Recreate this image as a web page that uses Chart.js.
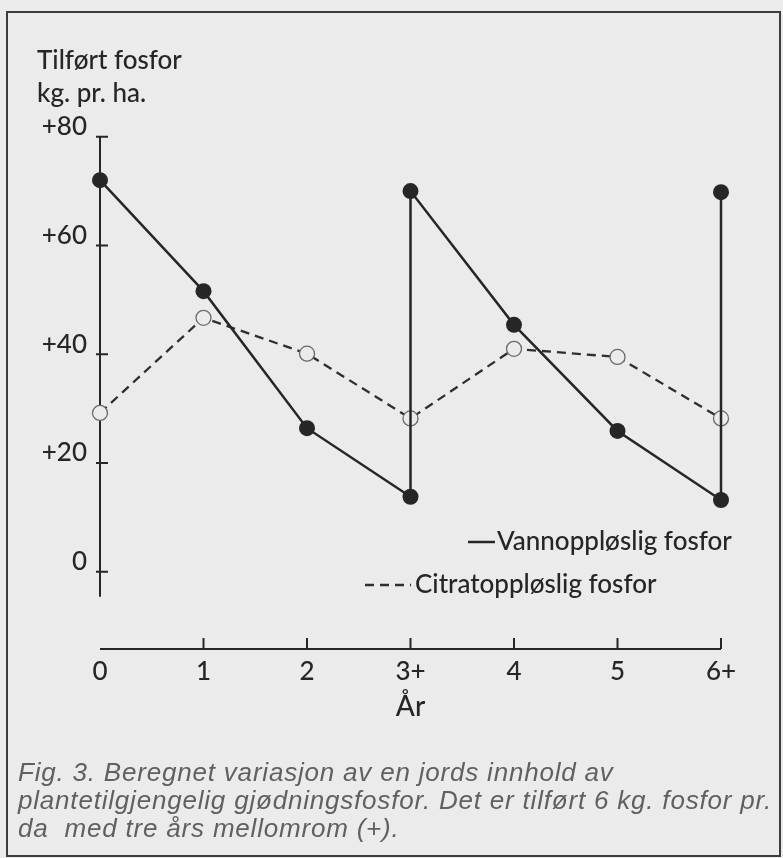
<!DOCTYPE html>
<html lang="no">
<head>
  <meta charset="UTF-8" />
  <title>Tilført fosfor</title>
  <script src="https://cdn.jsdelivr.net/npm/chart.js"></script>
  <style>
    html, body { margin: 0; padding: 0; background: #ebebeb; }
    body { width: 783px; height: 858px; position: relative; overflow: hidden; }
    #frame {
      position: absolute; left: 6px; top: 11px;
      width: 771px; height: 842px;
      border: 2px solid #3c3c3c;
    }
    #myChart { position: absolute; left: 0; top: 0; }
    #ytitle {
      position: absolute; left: 37px; top: 43px;
      font: 500 26px/33px Lato, "DejaVu Sans", sans-serif;
      color: #262626; white-space: nowrap;
    }
    #caption {
      position: absolute; left: 18px; top: 758px;
      font: italic 26px/28px "Liberation Sans", Arial, sans-serif;
      letter-spacing: 0.8px;
      color: #606060; white-space: nowrap;
    }
  </style>
</head>
<body>

<div id="frame"></div>
<canvas id="myChart" width="783" height="858"></canvas>
<div id="ytitle">Tilført fosfor<br>kg. pr. ha.</div>
<div id="caption">Fig. 3. Beregnet variasjon av en jords innhold av<br>plantetilgjengelig gjødningsfosfor. Det er tilført 6 kg. fosfor pr.<br>da&nbsp; med tre års mellomrom (+).</div>

<script>
  // tick values and labels
  const xTickValues = [0, 1, 2, 3, 4, 5, 6];
  const xTickLabels = ['0', '1', '2', '3+', '4', '5', '6+'];
  const yTickValues = [0, 20, 40, 60, 80];
  const yTickLabels = ['0', '+20', '+40', '+60', '+80'];

  // Vannoppløslig fosfor: falls each year, jumps back up at 3+ and 6+
  const waterYears = [0, 1, 2, 3, 3, 4, 5, 6, 6];
  const waterValues = [72, 51.6, 26.4, 13.8, 70, 45.4, 25.9, 13.2, 69.8];

  // Citratoppløslig fosfor
  const citrateYears = [0, 1, 2, 3, 4, 5, 6];
  const citrateValues = [29.2, 46.7, 40.1, 28.2, 41, 39.5, 28.2];

  const yBottom = -14.2;   // where the x axis sits
  const yAxisEnd = -4.6;   // the y axis line stops a little below 0
  const ink = '#262626';
  const bg = '#ebebeb';
  const figFont = 'Lato, "DejaVu Sans", sans-serif';

  const toPoints = (xs, ys) => xs.map((x, i) => ({ x: x, y: ys[i] }));

  // axes are drawn by hand: they do not meet at the corner in the original
  const handAxes = {
    id: 'handAxes',
    beforeDatasetsDraw(chart) {
      const { ctx, scales: { x, y }, chartArea } = chart;
      const x0 = x.getPixelForValue(0);
      const ay = chartArea.bottom;
      ctx.save();
      ctx.strokeStyle = ink;
      ctx.lineWidth = 2;
      ctx.beginPath();
      ctx.moveTo(x0, y.getPixelForValue(80));
      ctx.lineTo(x0, y.getPixelForValue(yAxisEnd));
      yTickValues.forEach(v => {
        const py = y.getPixelForValue(v);
        ctx.moveTo(x0 - 4, py);
        ctx.lineTo(x0 + 8, py);
      });
      ctx.moveTo(x0, ay);
      ctx.lineTo(x.getPixelForValue(6), ay);
      xTickValues.slice(1).forEach(v => {
        const px = x.getPixelForValue(v);
        ctx.moveTo(px, ay);
        ctx.lineTo(px, ay - 11);
      });
      ctx.stroke();
      ctx.restore();
    }
  };

  // legend sits inside the plot, lower right
  const legendRows = [
    { left: 468, top: 542, len: 27, textLeft: 497 },
    { left: 365, top: 585, len: 46, textLeft: 415 }
  ];
  const handLegend = {
    id: 'handLegend',
    afterDraw(chart) {
      const ctx = chart.ctx;
      ctx.save();
      chart.data.datasets.forEach((ds, i) => {
        const row = legendRows[i];
        ctx.strokeStyle = ds.borderColor;
        ctx.lineWidth = ds.borderWidth;
        ctx.setLineDash(ds.borderDash || []);
        ctx.beginPath();
        ctx.moveTo(row.left, row.top);
        ctx.lineTo(row.left + row.len, row.top);
        ctx.stroke();
        ctx.setLineDash([]);
        ctx.fillStyle = ink;
        ctx.font = '500 26px ' + figFont;
        ctx.textBaseline = 'middle';
        ctx.fillText(ds.label, row.textLeft, row.top);
      });
      ctx.restore();
    }
  };

  const ctx = document.getElementById('myChart').getContext('2d');

  const myChart = new Chart(ctx, {
    type: 'line',
    data: {
      datasets: [
        {
          label: 'Vannoppløslig fosfor',
          data: toPoints(waterYears, waterValues),
          borderColor: ink,
          borderWidth: 2.5,
          pointRadius: 8,
          pointBackgroundColor: ink,
          pointBorderWidth: 0,
          tension: 0,
          clip: false
        },
        {
          label: 'Citratoppløslig fosfor',
          data: toPoints(citrateYears, citrateValues),
          borderColor: '#2e2e2e',
          borderWidth: 2.3,
          borderDash: [9, 6],
          pointRadius: 7.5,
          pointBackgroundColor: bg,
          pointBorderColor: '#6a6a6a',
          pointBorderWidth: 1.3,
          tension: 0,
          clip: false
        }
      ]
    },
    options: {
      responsive: false,
      animation: false,
      devicePixelRatio: 1,
      layout: { padding: { left: 0, top: 136.7, right: 62, bottom: 134 } },
      plugins: {
        legend: { display: false },
        tooltip: { enabled: false }
      },
      scales: {
        x: {
          type: 'linear',
          min: 0,
          max: 6,
          afterBuildTicks: scale => { scale.ticks = xTickValues.map(v => ({ value: v })); },
          afterFit: scale => { scale.height = 75; },
          grid: { display: false, drawTicks: false },
          border: { display: false },
          ticks: {
            padding: 7,
            color: ink,
            font: { family: figFont, size: 26, weight: 500 },
            callback: v => xTickLabels[xTickValues.indexOf(v)]
          },
          title: {
            display: true,
            text: 'År',
            color: ink,
            padding: 0,
            font: { family: figFont, size: 28, weight: 500 }
          }
        },
        y: {
          min: yBottom,
          max: 80,
          afterBuildTicks: scale => { scale.ticks = yTickValues.map(v => ({ value: v })); },
          afterFit: scale => { scale.width = 100; },
          grid: { display: false, drawTicks: false },
          border: { display: false },
          ticks: {
            padding: 13,
            labelOffset: -10,
            color: ink,
            font: { family: figFont, size: 26, weight: 500 },
            callback: v => yTickLabels[yTickValues.indexOf(v)]
          }
        }
      }
    },
    plugins: [handAxes, handLegend]
  });
</script>

</body>
</html>
